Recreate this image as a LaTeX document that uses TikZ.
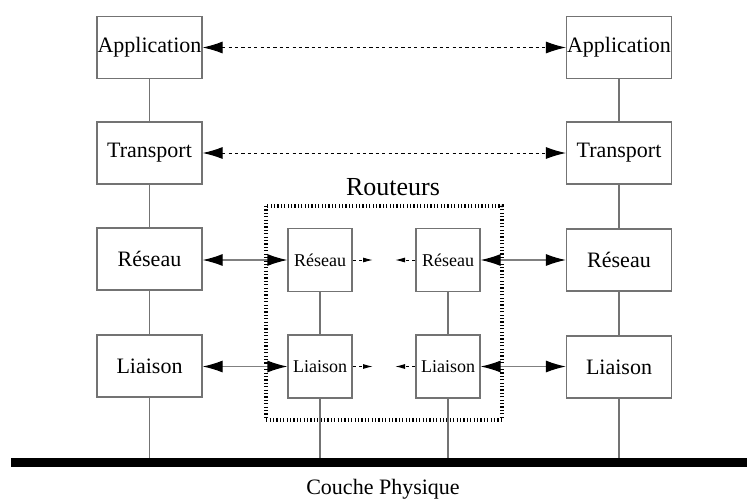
\documentclass[tikz,border=0pt]{standalone}
\usepackage{fontspec}
\setmainfont{Liberation Serif}
\usetikzlibrary{arrows.meta, positioning}

\begin{document}
\begin{tikzpicture}
            [x=0.5pt, y=-0.5pt, font=\fontsize{11}{13}\selectfont,
            layer/.style={rectangle, draw=black!55, line width=0.6pt, minimum width=52.5pt, minimum height=31pt, inner sep=0pt},
            router/.style={layer, minimum width=32pt, minimum height=31.5pt, font=\fontsize{9}{11}\selectfont},
            link/.style={draw=black!55, line width=0.6pt},
            peer/.style={{Latex[length=10pt,width=6pt,color=black]}-{Latex[length=10pt,width=6pt,color=black]}, black, line width=0.5pt, dash pattern=on 1.6pt off 1.6pt},
            hop/.style={{Latex[length=10pt,width=6pt,color=black]}-{Latex[length=10pt,width=6pt,color=black]}, draw=black!50, line width=0.6pt},
            half/.style={-{Latex[length=5pt,width=2.5pt]}, black, line width=0.5pt, dash pattern=on 1.6pt off 1.6pt}]
            \useasboundingbox (0,0) rectangle (747,498);

            % host on the left
            \node[layer] (aL) at (149.5,47.5) {Application};
            \node[layer] (tL) at (149.5,153) {Transport};
            \node[layer] (rL) at (149.5,259) {Réseau};
            \node[layer] (lL) at (149.5,366) {Liaison};

            % host on the right
            \node[layer] (aR) at (619,47.5) {Application};
            \node[layer] (tR) at (619,153) {Transport};
            \node[layer] (rR) at (619,260) {Réseau};
            \node[layer] (lR) at (619,367) {Liaison};

            % the two routers
            \node[router] (r1) at (320,260) {Réseau};
            \node[router] (l1) at (320,366.5) {Liaison};
            \node[router] (r2) at (448,260) {Réseau};
            \node[router] (l2) at (448,366.5) {Liaison};

            \draw[line width=1.8pt, dash pattern=on 0.6pt off 1.1pt] (266,206) rectangle (502,420);
            \node[font=\fontsize{13}{15}\selectfont] (rout) at (393,187) {Routeurs};

            % physical layer
            \coordinate (bus) at (11,462.5);
            \coordinate (busend) at (747,462.5);
            \draw[line width=4.5pt] (bus) -- (busend);
            \node (phy) at (383,489) {Couche Physique};

            % vertical links
            \draw[link] (aL) -- (tL) -- (rL) -- (lL) -- (lL.south |- 0,458);
            \draw[link] (aR) -- (tR) -- (rR) -- (lR) -- (lR.south |- 0,458);
            \draw[link] (r1) -- (l1) -- (l1.south |- 0,458);
            \draw[link] (r2) -- (l2) -- (l2.south |- 0,458);

            % peer to peer
            \draw[peer] (aL) -- (aR);
            \draw[peer] (tL) -- (tR);

            % hop by hop
            \draw[hop] (rL.east |- r1) -- (r1);
            \draw[hop] (r2) -- (rR.west |- r2);
            \draw[hop] (lL.east |- l1) -- (l1);
            \draw[hop] (l2) -- (lR.west |- l2);

            \coordinate (m1) at (373,260);
            \coordinate (m2) at (395,260);
            \coordinate (m3) at (373,366.5);
            \coordinate (m4) at (395,366.5);
            \draw[half] (r1) -- (m1);
            \draw[half] (r2) -- (m2);
            \draw[half] (l1) -- (m3);
            \draw[half] (l2) -- (m4);
        \end{tikzpicture}
\end{document}
